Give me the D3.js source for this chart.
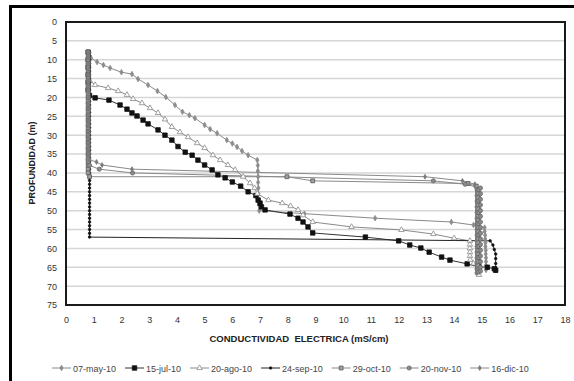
<!DOCTYPE html>
<html>
<head>
<meta charset="utf-8">
<script src="https://cdn.jsdelivr.net/npm/d3@7"></script>
<style>
  body { margin: 0; background: #fff; }
  text { font-family: "Liberation Sans", Arial, sans-serif; }
</style>
</head>
<body>
<div id="canvas"></div>
<script>
"use strict"

/* tick labels */
let xTicks = [0, 1, 2, 3, 4, 5, 6, 7, 8, 9, 10, 11, 12, 13, 14, 15, 16, 17, 18];
let yTicks = [0, 5, 10, 15, 20, 25, 30, 35, 40, 45, 50, 55, 60, 65, 70, 75];

let seriesNames = ["07-may-10", "15-jul-10", "20-ago-10", "24-sep-10", "29-oct-10", "20-nov-10", "16-dic-10"];

/* [conductividad, profundidad] */
let may10 = [[0.8,8],[0.9,9.5],[1.12,10.6],[1.35,11.4],[1.59,12.2],[2.0,13.3],[2.38,13.8],[2.6,15.1],
  [2.96,16.7],[3.3,18.3],[3.6,19.9],[3.93,22.0],[4.2,23.8],[4.45,24.7],[4.65,25.5],[5.0,27.3],
  [5.2,28.4],[5.45,29.5],[5.8,31.3],[6.0,32.2],[6.17,33.1],[6.35,34.2],[6.57,35.3],[6.9,36.6],
  [6.92,38],[6.92,39.5],[6.93,41],[6.93,42.5],[6.94,44],[6.94,45.5],[6.95,47],[6.96,48.5],[6.97,50],
  [8.6,50.8],[11.15,52],[13.9,53],[14.7,53.8],[15.1,54.5],[15.1,55.5],[15.12,56.5],[15.12,57.5],
  [15.13,58.5],[15.13,59.5],[15.14,60.5],[15.14,61.5],[15.15,62.5],[15.15,63.5],[15.15,64.5],[15.15,65.7]];

let jul10 = [[0.8,8],[0.8,10],[0.8,12],[0.8,14],[0.8,16],[0.8,18],[0.85,19.5],[1.05,20.1],[1.55,20.7],
  [1.95,22],[2.2,23.1],[2.38,24.1],[2.56,24.9],[2.78,26],[2.96,27],[3.32,28.6],[3.57,30],[3.82,31.3],
  [4.04,33],[4.3,34.5],[4.55,35.3],[4.76,36.6],[5.0,37.9],[5.27,39.2],[5.48,40.5],[5.74,41.3],[6.0,42.4],
  [6.3,43.5],[6.57,45],[6.85,46],[6.93,47.2],[7.0,48],[7.05,49],[7.18,49.8],[8.08,50.9],[8.37,52],
  [8.55,53],[8.73,54.3],[8.9,55.9],[10.8,57],[12.0,58],[12.4,59.1],[12.8,59.9],[13.1,61],[13.55,62.3],
  [13.85,63.1],[14.47,64.1],[14.9,64.9],[15.2,65.0],[15.45,65.4],[15.5,65.8]];

let ago10 = [[0.8,8],[0.8,10],[0.8,12],[0.8,14],[0.85,15.5],[1.05,16.7],[1.52,17.5],[1.88,18.3],
  [2.2,19.3],[2.42,20.4],[2.74,21.5],[3.03,22.8],[3.32,24.1],[3.57,25.8],[3.82,27.8],[4.11,29.2],
  [4.4,30.5],[4.73,32.1],[5.0,33.4],[5.3,35.3],[5.56,36.6],[5.84,37.9],[6.1,39.2],[6.39,41],[6.64,42.7],
  [6.8,44],[6.9,45.5],[7.3,47.2],[7.8,48],[8.1,48.8],[8.37,49.8],[8.55,51.2],[8.9,53],[10.3,54.3],
  [12.1,55.1],[13.25,56.2],[14.0,57.3],[14.57,58],[14.57,59],[14.57,60],[14.57,61],[14.57,62],
  [14.58,63],[14.7,64],[14.85,65],[14.9,66],[14.9,67]];

let sep10 = [[0.85,8],[0.85,9],[0.85,10],[0.85,11],[0.85,12],[0.85,13],[0.85,14],[0.85,15],[0.85,16],
  [0.85,17],[0.85,18],[0.85,19],[0.85,20],[0.85,21],[0.85,22],[0.85,23],[0.85,24],[0.85,25],[0.85,26],
  [0.85,27],[0.85,28],[0.85,29],[0.85,30],[0.85,31],[0.85,32],[0.85,33],[0.85,34],[0.85,35],[0.85,36],
  [0.85,37],[0.85,38],[0.85,39],[0.85,40],[0.85,41],[0.85,42],[0.85,43],[0.85,44],[0.85,45],[0.85,46],
  [0.85,47],[0.85,48],[0.85,49],[0.85,50],[0.85,51],[0.85,52],[0.85,53],[0.85,54],[0.85,55],[0.85,56],
  [0.85,57],[15.3,58],[15.4,59.1],[15.45,60.3],[15.5,61.5],[15.5,62.7],[15.5,64],[15.5,65.2],[15.5,66]];

let oct10 = [[0.8,8],[0.8,9],[0.8,10],[0.8,11],[0.8,12],[0.8,13],[0.8,14],[0.8,15],[0.8,16],[0.8,17],
  [0.8,18],[0.8,19],[0.8,20],[0.8,21],[0.8,22],[0.8,23],[0.8,24],[0.8,25],[0.8,26],[0.8,27],[0.8,28],
  [0.8,29],[0.8,30],[0.8,31],[0.8,32],[0.8,33],[0.8,34],[0.8,35],[0.8,36],[0.8,37],[0.8,38],[0.8,39],
  [0.8,40],[0.85,41],[7.97,41],[8.9,42.1],[14.5,42.8],[14.8,43.5],[14.85,44.5],[14.85,45.5],[14.85,46.5],
  [14.85,47.5],[14.85,48.5],[14.85,49.5],[14.85,50.5],[14.85,51.5],[14.85,52.5],[14.85,53.5],[14.85,54.5],
  [14.85,55.5],[14.85,56.5],[14.85,57.5],[14.85,58.5],[14.85,59.5],[14.85,60.5],[14.85,61.5],[14.85,62.5],
  [14.85,63.5],[14.85,64.5],[14.85,65.5],[14.85,66.3]];

let nov10 = [[0.8,8],[0.8,9.5],[0.8,11],[0.8,12.5],[0.8,14],[0.8,15.5],[0.8,17],[0.8,18.5],[0.8,20],
  [0.8,21.5],[0.8,23],[0.8,24.5],[0.8,26],[0.8,27.5],[0.8,29],[0.8,30.5],[0.8,32],[0.8,33.5],[0.8,35],
  [0.8,36.5],[0.85,38],[1.2,39],[2.4,40],[13.25,42.1],[14.4,43],[14.95,44],[14.95,45.5],[14.95,47],
  [14.95,48.5],[14.95,50],[14.95,51.5],[14.95,53],[14.95,54.5],[14.95,56],[14.95,57.5],[14.95,59],
  [14.95,60.5],[14.95,62],[14.95,63.5],[14.95,65],[14.95,66]];

let dic10 = [[0.8,8],[0.8,9.5],[0.8,11],[0.8,12.5],[0.8,14],[0.8,15.5],[0.8,17],[0.8,18.5],[0.8,20],
  [0.8,21.5],[0.8,23],[0.8,24.5],[0.8,26],[0.8,27.5],[0.8,29],[0.8,30.5],[0.8,32],[0.8,33.5],[0.8,35],
  [0.85,36.5],[1.1,37.1],[1.3,37.9],[2.38,39],[12.95,41],[14.3,42.1],[14.75,43],[14.8,44.5],[14.8,46],
  [14.8,47.5],[14.8,49],[14.8,50.5],[14.8,52],[14.8,53.5],[14.8,55],[14.8,56.5],[14.8,58],[14.8,59.5],
  [14.8,61],[14.8,62.5],[14.8,64],[14.8,65.5],[14.8,66.5]];

let allSeries = [may10, jul10, ago10, sep10, oct10, nov10, dic10];

/* look of each series: line colour and marker */
let styles = [
  {line: "#8a8a8a", sym: d3.symbolDiamond, size: 9, fill: "#8c8c8c", stroke: "#8c8c8c"},
  {line: "#333333", sym: d3.symbolSquare, size: 20, fill: "#111111", stroke: "#111111"},
  {line: "#8a8a8a", sym: d3.symbolTriangle, size: 13, fill: "#ffffff", stroke: "#8a8a8a"},
  {line: "#222222", sym: d3.symbolCircle, size: 5, fill: "#111111", stroke: "#111111"},
  {line: "#8a8a8a", sym: d3.symbolSquare, size: 15, fill: "#a0a0a0", stroke: "#555555"},
  {line: "#8a8a8a", sym: d3.symbolCircle, size: 14, fill: "#8a8a8a", stroke: "#6a6a6a"},
  {line: "#8a8a8a", sym: d3.symbolDiamond, size: 7, fill: "#7a7a7a", stroke: "#7a7a7a"}
];

let drawing = d3.select("#canvas")
  .append("svg")
  .attr("width", 574)
  .attr("height", 381);

/* outer frame of the chart */
let frame = drawing.append("rect")
  .attr("x", 10.5)
  .attr("y", 6.5)
  .attr("width", 580)
  .attr("height", 390)
  .attr("fill", "none")
  .attr("stroke", "#000")
  .attr("stroke-width", 3);

let plotLeft = 66, plotRight = 565, plotTop = 22, plotBottom = 305;

let xScale = d3.scaleLinear().domain([0, 18]).range([plotLeft, plotRight]);
let yScale = d3.scaleLinear().domain([0, 75]).range([plotTop, plotBottom]);

/* horizontal grid */
drawing.append("g")
  .selectAll("line")
  .data(yTicks)
  .join("line")
  .attr("x1", plotLeft)
  .attr("x2", plotRight)
  .attr("y1", d => yScale(d))
  .attr("y2", d => yScale(d))
  .attr("stroke", "#d6d6d6")
  .attr("stroke-width", 1.5);

/* axes, labels only */
let yAxis = drawing.append("g")
  .attr("transform", "translate(" + plotLeft + ",0)")
  .call(d3.axisLeft(yScale).tickValues(yTicks).tickSize(0).tickPadding(9));
let xAxis = drawing.append("g")
  .attr("transform", "translate(0," + plotBottom + ")")
  .call(d3.axisBottom(xScale).tickValues(xTicks).tickSize(0).tickPadding(12));
[yAxis, xAxis].forEach(a => {
  a.select(".domain").remove();
  a.selectAll("text")
    .attr("font-size", 9)
    .attr("font-family", "Liberation Sans, Arial, sans-serif")
    .attr("fill", "#333");
});

/* plot area border */
drawing.append("rect")
  .attr("x", plotLeft)
  .attr("y", plotTop)
  .attr("width", plotRight - plotLeft)
  .attr("height", plotBottom - plotTop)
  .attr("fill", "none")
  .attr("stroke", "#1a1a1a")
  .attr("stroke-width", 2);

/* series */
let lineGen = d3.line()
  .x(d => xScale(d[0]))
  .y(d => yScale(d[1]));

allSeries.forEach((data, i) => {
  let st = styles[i];
  drawing.append("path")
    .datum(data)
    .attr("d", lineGen)
    .attr("fill", "none")
    .attr("stroke", st.line)
    .attr("stroke-width", 1);
});
allSeries.forEach((data, i) => {
  let st = styles[i];
  drawing.append("g")
    .selectAll("path")
    .data(data)
    .join("path")
    .attr("transform", d => "translate(" + xScale(d[0]) + "," + yScale(d[1]) + ")")
    .attr("d", d3.symbol().type(st.sym).size(st.size))
    .attr("fill", st.fill)
    .attr("stroke", st.stroke)
    .attr("stroke-width", 0.8);
});

/* axis titles */
drawing.append("text")
  .attr("x", 299)
  .attr("y", 342)
  .attr("text-anchor", "middle")
  .attr("font-size", 9.5)
  .attr("font-weight", "bold")
  .attr("fill", "#222")
  .style("white-space", "pre")
  .text("CONDUCTIVIDAD  ELECTRICA (mS/cm)");

drawing.append("text")
  .attr("transform", "translate(35,163) rotate(-90)")
  .attr("text-anchor", "middle")
  .attr("font-size", 9)
  .attr("font-weight", "bold")
  .attr("fill", "#222")
  .text("PROFUNDIDAD (m)");

/* legend */
let legendX = 52, legendY = 368;
seriesNames.forEach((name, i) => {
  let st = styles[i];
  let item = drawing.append("g").attr("transform", "translate(" + legendX + "," + legendY + ")");
  item.append("line")
    .attr("x1", 0).attr("x2", 19)
    .attr("y1", 0).attr("y2", 0)
    .attr("stroke", st.line)
    .attr("stroke-width", 1);
  item.append("path")
    .attr("transform", "translate(9.5,0)")
    .attr("d", d3.symbol().type(st.sym).size(st.size))
    .attr("fill", st.fill)
    .attr("stroke", st.stroke)
    .attr("stroke-width", 0.8);
  let label = item.append("text")
    .attr("x", 21)
    .attr("y", 3.5)
    .attr("font-size", 9)
    .attr("fill", "#444")
    .text(name);
  legendX += 21 + label.node().getComputedTextLength() + 9;
});
</script>
</body>
</html>
